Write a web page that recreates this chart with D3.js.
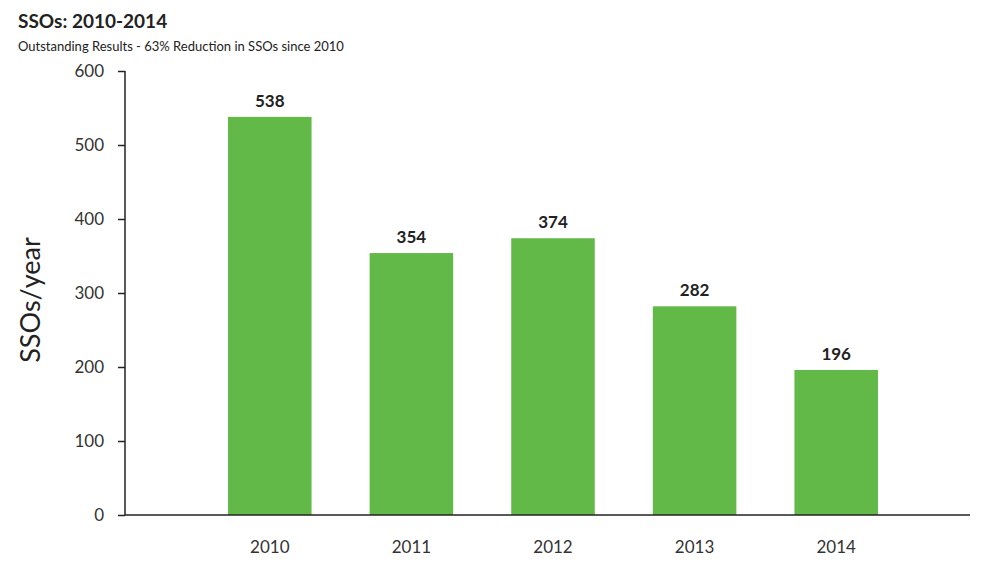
<!DOCTYPE html><html><head><meta charset="utf-8">
<script src="https://cdn.jsdelivr.net/npm/d3@7"></script>
<style>body{margin:0;background:#fff}text{font-family:Lato,"Open Sans",sans-serif}</style></head><body>
<svg id="c" width="1000" height="567"></svg>
<script>
const years=["2010","2011","2012","2013","2014"];
const values=[538,354,374,282,196];
const yTicks=[0,100,200,300,400,500,600];
const svg=d3.select("#c");
const x=d3.scaleBand().domain(years).range([199,907]).paddingInner(0.41).paddingOuter(0.205);
const y=d3.scaleLinear().domain([0,600]).range([515,71]);
svg.append("text").attr("x",18).attr("y",28).attr("font-size",19).attr("font-weight",700).attr("fill","#222").text("SSOs: 2010-2014");
svg.append("text").attr("x",18).attr("y",51).attr("font-size",13).attr("fill","#222").text("Outstanding Results - 63% Reduction in SSOs since 2010");
svg.selectAll("rect.b").data(values).join("rect").attr("class","b")
 .attr("x",(d,i)=>x(years[i])).attr("width",x.bandwidth()).attr("y",d=>y(d)).attr("height",d=>y(0)-y(d)).attr("fill","#63b947");
svg.selectAll("text.v").data(values).join("text").attr("class","v")
 .attr("x",(d,i)=>x(years[i])+x.bandwidth()/2).attr("y",d=>y(d)-10).attr("text-anchor","middle")
 .attr("font-size",17).attr("font-weight",700).attr("fill","#222").text(d=>d);
const ya=svg.append("g").attr("transform","translate(125,0)").call(d3.axisLeft(y).tickValues(yTicks).tickSize(7).tickPadding(14));
ya.select(".domain").attr("stroke","#222").attr("stroke-width",1.5).attr("d","M0,71V515");
ya.selectAll("line").attr("stroke","#222").attr("stroke-width",1.5);
ya.selectAll("text").attr("font-size",17).attr("fill","#333").attr("font-family","Lato,sans-serif");
svg.append("line").attr("x1",125).attr("x2",970).attr("y1",515).attr("y2",515).attr("stroke","#222").attr("stroke-width",1.5);
svg.selectAll("text.yr").data(years).join("text").attr("class","yr")
 .attr("x",d=>x(d)+x.bandwidth()/2).attr("y",553).attr("text-anchor","middle").attr("font-size",17).attr("fill","#333").text(d=>d);
svg.append("text").attr("transform","translate(40,300) rotate(-90)").attr("text-anchor","middle").attr("font-size",27).attr("fill","#222").text("SSOs/year");
</script></body></html>
